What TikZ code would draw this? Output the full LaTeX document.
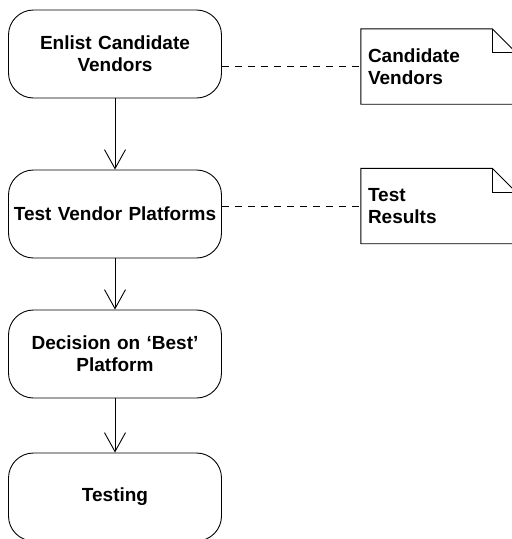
\documentclass[tikz,border=0pt]{standalone}
\usepackage{fontspec}
\setmainfont{Liberation Sans}
\usepackage{tikz}
\usetikzlibrary{arrows.meta,positioning,calc}

\tikzset{
  activity/.style={draw,line width=0.9pt,rounded corners=25pt,minimum width=213pt,minimum height=88pt,
    text width=205pt,align=center,font=\fontsize{19}{22}\selectfont\bfseries},
  notebox/.style={minimum width=155pt,minimum height=75pt,inner xsep=7pt,text width=141pt,align=left,
    font=\fontsize{19}{22}\selectfont\bfseries},
  flow/.style={line width=0.9pt,-{Straight Barb[length=19pt,width=21pt]}},
  link/.style={line width=0.9pt,dash pattern=on 7pt off 6pt}
}

\begin{document}
\begin{tikzpicture}[x=1pt,y=-1pt]
  \useasboundingbox (0,0) rectangle (512,539);
  % activities down the left
  \node[activity] (enlist) at (115,54) {Enlist Candidate\\Vendors};
  \node[activity] (test) at (115,214) {Test Vendor Platforms};
  \node[activity] (decide) at (115,354) {Decision on `Best'\\Platform};
  \node[activity] (testing) at (115,497) {Testing};
  \draw[flow] (enlist) -- (test);
  \draw[flow] (test) -- (decide);
  \draw[flow] (decide) -- (testing);
  % notes with folded corner
  \node[notebox] (cand) at (438.5,66.5) {Candidate\\Vendors\\[-3pt]};
  \node[notebox] (results) at (438.5,206) {Test\\Results\\[-3pt]};
  \foreach \n in {cand,results}{
    \draw[line width=0.9pt] (\n.south west) -- (\n.north west) -- ($(\n.north east)+(-24,0)$)
      -- ($(\n.north east)+(0,24)$) -- (\n.south east) -- cycle;
    \draw[line width=0.9pt] ($(\n.north east)+(-24,0)$) -- ($(\n.north east)+(-24,24)$) -- ($(\n.north east)+(0,24)$);
  }
  \draw[link] (enlist.east |- cand.west) -- (cand.west);
  \draw[link] (test.east |- results.west) -- (results.west);
\end{tikzpicture}
\end{document}
